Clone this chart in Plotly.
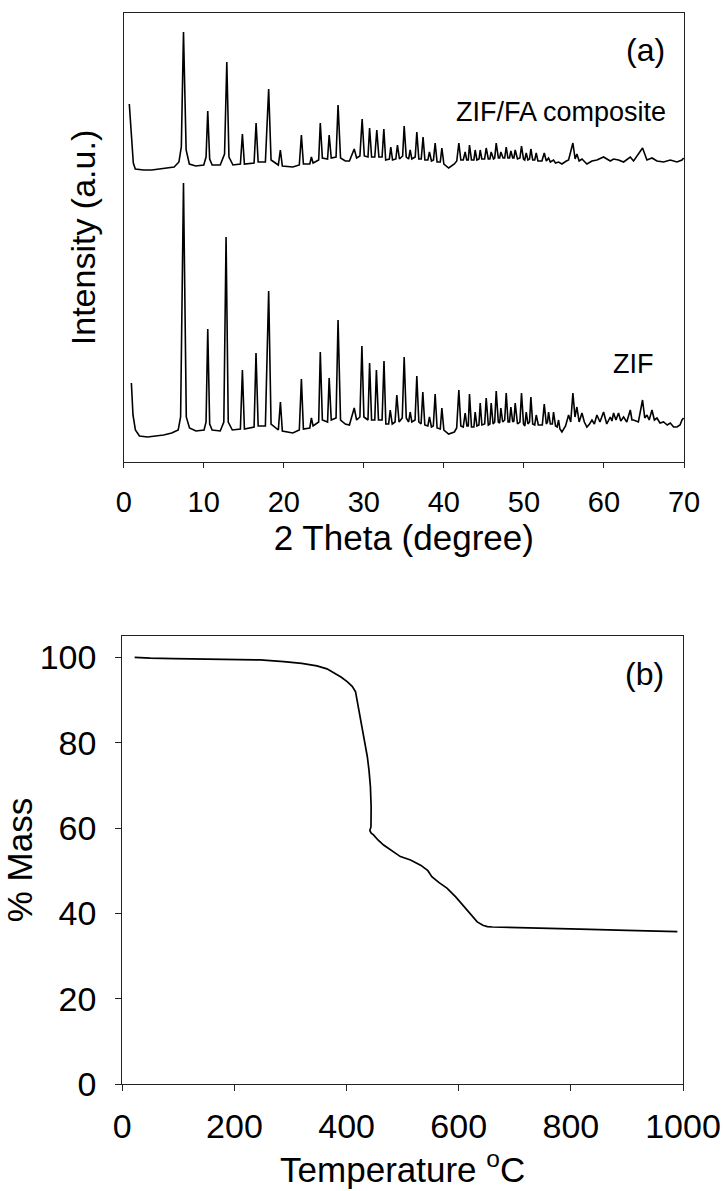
import plotly.graph_objects as go

FONT = "Liberation Sans, Arial, sans-serif"

# ---------------- (a) XRD patterns ----------------
zif_2theta = [0.96, 1.16, 1.46, 1.97, 2.98, 3.99, 4.99, 6.0, 6.81, 7.11, 7.47, 7.82, 8.22, 9.03, 10.04, 10.29, 10.5, 10.74, 11.05, 12.06,
              12.51, 12.79, 13.06, 13.57, 14.58, 14.83, 15.08, 16.29, 16.53, 16.8, 17.7, 18.11, 18.41, 19.32, 19.58, 19.82, 21.13, 21.94,
              22.2, 22.45, 23.25, 23.45, 23.66, 24.36, 24.56, 24.82, 25.47, 25.67, 25.93, 26.53, 26.78, 27.09, 27.69, 28.2, 28.8, 29.1,
              29.51, 29.76, 30.01, 30.52, 30.72, 30.97, 31.37, 31.57, 31.83, 32.28, 32.52, 32.75, 33.1, 33.3, 33.55, 33.9, 34.12, 34.4,
              34.8, 35.04, 35.3, 35.6, 35.79, 36.0, 36.4, 36.62, 36.87, 37.15, 37.37, 37.62, 38.0, 38.2, 38.45, 38.68, 38.91, 39.15,
              39.55, 39.75, 40.0, 40.6, 41.31, 41.6, 41.87, 42.12, 42.42, 42.66, 42.88, 43.05, 43.2, 43.45, 43.75, 43.91, 44.13, 44.38,
              44.54, 44.75, 45.1, 45.29, 45.55, 45.75, 45.91, 46.15, 46.35, 46.54, 46.8, 46.97, 47.12, 47.35, 47.6, 47.79, 48.02, 48.2,
              48.37, 48.6, 48.75, 48.91, 49.2, 49.5, 49.7, 49.95, 50.12, 50.29, 50.5, 50.7, 50.87, 51.1, 51.35, 51.54, 51.8, 52.3,
              52.54, 52.8, 52.95, 53.08, 53.3, 53.55, 53.7, 53.95, 54.15, 54.33, 54.5, 54.75, 55.2, 55.58, 55.85, 56.12, 56.38, 56.62,
              56.9, 57.25, 57.55, 57.87, 58.2, 58.5, 58.8, 59.12, 59.5, 59.95, 60.35, 60.79, 61.0, 61.2, 61.5, 61.82, 62.1, 62.45,
              62.85, 63.29, 63.5, 63.7, 64.3, 64.82, 65.1, 65.37, 65.65, 66.0, 66.3, 66.62, 67.0, 67.45, 67.9, 68.29, 68.7, 69.12,
              69.5, 69.75, 69.95]
zif_intensity = [79, 47, 32, 26, 25, 26, 27, 29, 32, 45, 279, 45, 34, 31, 32, 40, 133, 38, 32, 31,
                 40, 225, 40, 32, 33, 92, 33, 35, 109, 36, 36, 171, 38, 32, 60, 31, 29, 32,
                 83, 33, 34, 44, 36, 40, 110, 42, 40, 84, 42, 44, 142, 42, 38, 37, 54, 42,
                 45, 116, 45, 42, 99, 42, 42, 92, 42, 42, 101, 38, 38, 52, 38, 40, 67, 40,
                 44, 105, 44, 40, 50, 40, 42, 86, 40, 38, 70, 37, 36, 45, 35, 36, 68, 34,
                 33, 54, 32, 28, 30, 34, 72, 36, 35, 49, 36, 36, 68, 35, 35, 50, 36, 37,
                 59, 37, 38, 64, 37, 38, 59, 38, 40, 71, 40, 39, 54, 40, 42, 69, 40, 40,
                 55, 40, 41, 59, 38, 40, 69, 38, 36, 50, 38, 40, 65, 38, 37, 47, 37, 37,
                 58, 38, 40, 50, 38, 38, 50, 36, 35, 42, 33, 30, 36, 47, 40, 69, 45, 55,
                 40, 49, 40, 35, 38, 42, 38, 47, 40, 50, 38, 45, 41, 49, 42, 49, 41, 45,
                 40, 52, 42, 42, 40, 62, 44, 47, 42, 52, 42, 44, 39, 40, 37, 39, 35, 35,
                 37, 42, 44]

comp_2theta = [0.7, 0.95, 1.2, 1.45, 2.5, 3.5, 4.5, 5.5, 6.3, 6.9, 7.2, 7.47, 7.8, 8.2, 9.0, 10.0, 10.29, 10.5, 10.74, 11.05,
               12.06, 12.6, 12.88, 13.15, 13.65, 14.58, 14.83, 15.08, 16.29, 16.54, 16.8, 17.7, 18.11, 18.41, 19.32, 19.57, 19.82,
               21.13, 21.94, 22.2, 22.45, 23.25, 23.45, 23.66, 24.36, 24.56, 24.82, 25.47, 25.67, 25.93, 26.53, 26.78, 27.09, 27.69,
               28.2, 28.8, 29.1, 29.51, 29.79, 30.06, 30.52, 30.72, 30.97, 31.37, 31.62, 31.88, 32.28, 32.5, 32.73, 33.19, 33.37,
               33.59, 34.0, 34.2, 34.45, 34.85, 35.04, 35.3, 35.6, 35.79, 36.0, 36.42, 36.62, 36.87, 37.17, 37.4, 37.63, 38.0, 38.2,
               38.45, 38.7, 38.91, 39.15, 39.55, 39.75, 40.0, 40.6, 41.31, 41.61, 41.87, 42.12, 42.42, 42.66, 42.85, 43.05, 43.2,
               43.45, 43.75, 43.91, 44.13, 44.39, 44.54, 44.74, 45.09, 45.29, 45.55, 45.75, 45.91, 46.2, 46.35, 46.54, 46.81, 46.97,
               47.12, 47.4, 47.6, 47.79, 48.0, 48.2, 48.37, 48.6, 48.75, 48.91, 49.2, 49.5, 49.7, 49.95, 50.1, 50.29, 50.5, 50.7,
               50.87, 51.1, 51.35, 51.54, 51.75, 52.25, 52.54, 52.8, 53.08, 53.3, 53.7, 53.95, 54.33, 54.75, 55.3, 55.58, 56.12,
               56.4, 56.62, 56.9, 57.25, 57.87, 58.5, 59.12, 59.95, 60.79, 61.2, 61.82, 62.45, 63.29, 63.7, 64.82, 65.37, 66.0,
               66.62, 67.45, 68.29, 69.12, 69.75, 69.95]
comp_intensity = [358, 322, 299, 293, 292, 292, 293, 294, 295, 300, 315, 430, 312, 298, 296, 297, 305, 351, 303, 297,
                  297, 308, 400, 305, 297, 298, 328, 298, 299, 339, 300, 300, 373, 302, 297, 312, 296,
                  295, 297, 327, 298, 298, 305, 299, 302, 339, 304, 303, 327, 304, 305, 357, 304, 301,
                  301, 313, 304, 306, 343, 306, 305, 334, 305, 305, 332, 305, 305, 333, 302, 303, 315,
                  302, 303, 317, 303, 306, 336, 305, 303, 312, 303, 305, 330, 303, 303, 325, 302, 302, 310,
                  301, 302, 319, 300, 300, 314, 298, 294, 298, 301, 319, 302, 302, 310, 302, 302, 317,
                  302, 302, 312, 302, 303, 312, 303, 303, 314, 303, 303, 310, 303, 304, 319, 304, 304,
                  310, 304, 304, 315, 304, 304, 311, 304, 304, 312, 303, 304, 316, 303, 302, 309, 302, 303,
                  313, 302, 302, 309, 301, 301, 309, 301, 304, 300, 302, 299, 300, 298, 301, 302, 319,
                  303, 308, 301, 303, 298, 301, 302, 305, 301, 303, 302, 300, 305, 301, 314, 302, 304,
                  301, 300, 302, 300, 302, 304]

# ---------------- (b) TGA ----------------
tga_temp = [22, 50, 92, 150, 200, 246, 288, 320, 347, 365, 377, 390, 401, 410, 416, 420, 425, 431, 437, 440, 442.5,
            443.8, 444.3, 443.5, 441.5, 444, 448, 456, 466, 484, 496, 514, 532, 545, 552, 565, 579, 595, 609, 622, 633,
            643, 651, 660, 700, 817, 900, 990]
tga_mass = [100.0, 99.8, 99.7, 99.6, 99.5, 99.4, 99.0, 98.6, 98.0, 97.3, 96.4, 95.4, 94.3, 93.2, 91.9, 89.0, 86.1,
            81.5, 76.7, 73.5, 69.7, 65.0, 61.5, 60.3, 59.4, 58.8, 58.4, 57.2, 56.0, 54.4, 53.3, 52.5, 51.3, 50.0, 48.6,
            47.2, 45.9, 43.8, 41.6, 39.6, 38.0, 37.2, 36.9, 36.8, 36.7, 36.3, 36.0, 35.7]

xrd_ticks = [0, 10, 20, 30, 40, 50, 60, 70]
tga_xticks = [0, 200, 400, 600, 800, 1000]
tga_yticks = [0, 20, 40, 60, 80, 100]

W, H = 726, 1191
AX = "#222222"

fig = go.Figure()
fig.add_trace(go.Scatter(x=comp_2theta, y=comp_intensity, mode="lines",
                         line=dict(color="black", width=1.6), xaxis="x", yaxis="y", showlegend=False))
fig.add_trace(go.Scatter(x=zif_2theta, y=zif_intensity, mode="lines",
                         line=dict(color="black", width=1.6), xaxis="x", yaxis="y", showlegend=False))
fig.add_trace(go.Scatter(x=tga_temp, y=tga_mass, mode="lines",
                         line=dict(color="black", width=1.7), xaxis="x2", yaxis="y2", showlegend=False))

common = dict(showgrid=False, zeroline=False, showline=True, mirror=True, linecolor=AX, linewidth=1.2,
              ticks="outside", tickcolor=AX, tickwidth=1.2, automargin=False)

fig.update_layout(
    width=W, height=H, margin=dict(l=0, r=0, t=0, b=0),
    paper_bgcolor="white", plot_bgcolor="white",
    font=dict(family=FONT, color="black"),
    xaxis=dict(domain=[123.7 / W, 684 / W], range=[0, 70], tickvals=xrd_ticks, ticklen=5,
               tickfont=dict(size=29), anchor="y", ticklabelstandoff=9,
               title=dict(text="2 Theta (degree)", font=dict(size=35), standoff=6), **common),
    yaxis=dict(domain=[1 - 462 / H, 1 - 13 / H], range=[0, 449], showticklabels=False, anchor="x",
               title=dict(text="Intensity (a.u.)", font=dict(size=34), standoff=16),
               **{**common, "ticks": ""}),
    xaxis2=dict(domain=[122.3 / W, 683 / W], range=[0, 1000], tickvals=tga_xticks, ticklen=6,
                tickfont=dict(size=34), anchor="y2", ticklabelstandoff=6,
                title=dict(text="Temperature <sup>o</sup>C", font=dict(size=35), standoff=2), **common),
    yaxis2=dict(domain=[1 - 1084 / H, 1 - 636 / H], range=[0, 105], tickvals=tga_yticks, ticklen=6,
                tickfont=dict(size=34), anchor="x2", ticklabelstandoff=12,
                title=dict(text="% Mass", font=dict(size=35), standoff=0), **common),
    annotations=[
        dict(text="(a)", x=667 / W, y=1 - 50 / H, xref="paper", yref="paper", xanchor="right", yanchor="middle",
             showarrow=False, font=dict(size=32)),
        dict(text="ZIF/FA composite", x=668 / W, y=1 - 112 / H, xref="paper", yref="paper", xanchor="right",
             yanchor="middle", showarrow=False, font=dict(size=27)),
        dict(text="ZIF", x=656 / W, y=1 - 364 / H, xref="paper", yref="paper", xanchor="right",
             yanchor="middle", showarrow=False, font=dict(size=27)),
        dict(text="(b)", x=666 / W, y=1 - 674 / H, xref="paper", yref="paper", xanchor="right", yanchor="middle",
             showarrow=False, font=dict(size=32)),
    ],
)

fig.write_html("out.html", config={"displayModeBar": False},
               post_script="document.body.style.margin='0';document.body.style.overflow='hidden';")
